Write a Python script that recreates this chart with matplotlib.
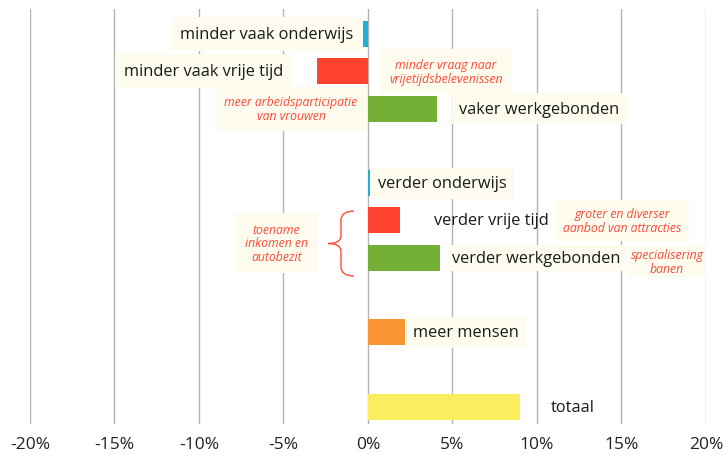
import matplotlib.pyplot as plt
from matplotlib.path import Path
from matplotlib.patches import PathPatch

# Data (percent change)
labels = ['minder vaak onderwijs', 'minder vaak vrije tijd', 'vaker werkgebonden',
          'verder onderwijs', 'verder vrije tijd', 'verder werkgebonden',
          'meer mensen', 'totaal']
values = [-0.3, -3.0, 4.1, 0.1, 1.9, 4.25, 2.2, 9.0]
bar_colors = ['#1fb0d6', '#ff432e', '#74b035', '#1fb0d6', '#ff432e', '#74b035',
              '#fb9433', '#fbee5e']
xticks = [-20, -15, -10, -5, 0, 5, 10, 15, 20]
xtick_labels = ['-20%', '-15%', '-10%', '-5%', '0%', '5%', '10%', '15%', '20%']

# row of each bar (empty rows between groups)
slots = [0, 1, 2, 4, 5, 6, 8, 10]

plt.rcParams['font.family'] = ['Open Sans', 'DejaVu Sans']
box_col = '#fdfcee'
note_col = '#ff4a3a'

fig = plt.figure(figsize=(7.24, 4.6), dpi=100)
ax = fig.add_axes([30 / 724, 1 - 425 / 460, 676 / 724, 415 / 460])

ax.barh(slots, values, height=0.7, color=bar_colors, zorder=3)
ax.set_xlim(-20, 20)
ax.set_ylim(10.46, -0.67)
ax.set_xticks(xticks)
ax.set_xticklabels(xtick_labels, fontsize=12.5, color='#222222')
ax.set_yticks([])
ax.grid(axis='x', color='#b4b4b4', linewidth=1, zorder=0)
ax.tick_params(axis='x', length=0, pad=9)
for s in ax.spines.values():
    s.set_visible(False)


def lab(x, y, txt, ha='left', size=11.8, color='#1a1a1a', style='normal', pad=0.45, box=True):
    bb = dict(boxstyle=f'square,pad={pad}', fc=box_col, ec='none') if box else None
    ax.text(x, y, txt, ha=ha, va='center', fontsize=size, color=color, style=style,
            bbox=bb, zorder=4, linespacing=1.05, clip_on=False)


# bar labels
lab(-0.9, slots[0], labels[0], ha='right', pad=0.55)
lab(-5.0, slots[1], labels[1], ha='right', pad=0.55)
lab(5.4, slots[2], labels[2])
lab(0.6, slots[3], labels[3])
lab(3.9, slots[4], labels[4], box=False)
lab(5.0, slots[5], labels[5], pad=0.3)
lab(2.66, slots[6], labels[6])
lab(10.83, slots[7], labels[7], box=False)

# explanatory notes
lab(4.6, 1.0, 'minder vraag naar\nvrijetijdsbelevenissen', ha='center', size=8.8,
    color=note_col, style='italic', pad=0.75)
lab(-4.55, 2.0, 'meer arbeidsparticipatie\nvan vrouwen', ha='center', size=8.8,
    color=note_col, style='italic', pad=0.75)
lab(15.06, 5.0, 'groter en diverser\naanbod van attracties', ha='center', size=8.8,
    color=note_col, style='italic', pad=0.6)
lab(17.7, 6.1, 'specialisering\nbanen', ha='center', size=8.8,
    color=note_col, style='italic', pad=0.2)
lab(-5.4, 5.6, 'toename\ninkomen en\nautobezit', ha='center', size=8.8,
    color=note_col, style='italic', pad=0.8)

# curly brace next to the "verder" bars
xa, xt = -0.83, -2.37
y0, y1 = 4.75, 6.49
yc = (y0 + y1) / 2
xm = (xa + xt) / 2
verts = [(xa, y0), (xm, y0), (xm, y0 + 0.25),
         (xm, yc - 0.2), (xm, yc), (xt, yc),
         (xm, yc), (xm, yc + 0.2),
         (xm, y1 - 0.25), (xm, y1), (xa, y1)]
codes = [Path.MOVETO, Path.CURVE3, Path.CURVE3,
         Path.LINETO, Path.CURVE3, Path.CURVE3,
         Path.CURVE3, Path.CURVE3,
         Path.LINETO, Path.CURVE3, Path.CURVE3]
ax.add_patch(PathPatch(Path(verts, codes), fc='none', ec=note_col, lw=1.0, zorder=4))

fig.savefig('out.png', dpi=100)
